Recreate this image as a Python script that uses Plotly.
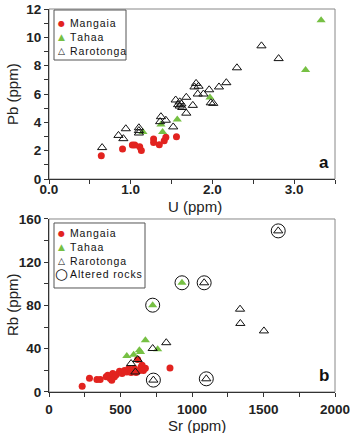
import plotly.graph_objects as go
from plotly.subplots import make_subplots

# ---------------- data ----------------
# Panel a: U (ppm) vs Pb (ppm)
man_u = [0.64, 0.90, 1.02, 1.05, 1.11, 1.13, 1.28, 1.28, 1.35, 1.41, 1.43, 1.56]
man_pb = [1.65, 2.12, 2.40, 2.40, 2.28, 2.02, 2.82, 2.58, 2.42, 2.70, 2.95, 2.98]

tah_u = [3.33, 3.14, 1.97, 1.37, 1.39, 1.57, 1.15]
tah_pb = [11.2, 7.7, 5.75, 3.85, 3.32, 4.20, 3.32]

rar_u = [0.65, 0.85, 0.91, 0.94, 1.10, 1.10, 1.10, 1.36, 1.37, 1.43, 1.52, 1.55,
         1.60, 1.62, 1.60, 1.63, 1.58, 1.68, 1.68, 1.76, 1.78, 1.80, 1.83, 1.82,
         1.89, 1.96, 1.98, 2.01, 2.08, 2.17, 2.30, 2.60, 2.81]
rar_pb = [2.22, 3.08, 2.85, 3.55, 3.62, 3.42, 3.25, 4.05, 4.40, 4.15, 3.68, 5.58,
          5.45, 5.30, 5.15, 5.05, 5.25, 5.77, 4.65, 5.20, 6.50, 6.75, 6.55, 6.00,
          6.00, 6.30, 5.38, 5.34, 6.50, 6.80, 7.85, 9.40, 8.50]

# Panel b: Sr (ppm) vs Rb (ppm)
man_sr = [232, 283, 335, 358, 400, 411, 428, 439, 446, 458, 470, 493, 511, 528,
          544, 558, 574, 597, 609, 620, 632, 644, 651, 660, 674, 846]
man_rb = [5.3, 12.8, 11.5, 11.5, 14.0, 15.5, 12.5, 10.8, 17.0, 14.0, 16.0, 19.2,
          17.0, 20.0, 18.5, 21.7, 18.0, 21.7, 18.0, 30.0, 20.0, 23.2, 24.7, 20.0,
          22.0, 22.2]

tah_sr = [544, 592, 632, 640, 674, 760, 725, 930]
tah_rb = [33.4, 34.5, 38.5, 37.0, 47.9, 39.6, 80.3, 101.0]

rar_sr = [574, 604, 620, 725, 820, 1336, 1338, 1503, 1085, 1603, 730, 1100]
rar_rb = [26.3, 18.5, 30.0, 40.2, 45.6, 76.6, 63.4, 56.5, 101.0, 149.0, 11.0, 12.2]

alt_sr = [725, 930, 1085, 1603, 730, 1100]
alt_rb = [80.3, 101.0, 101.0, 149.0, 11.0, 12.2]

RED = "#e2231f"
GREEN = "#76c043"
FONT = "Liberation Sans, Arial, sans-serif"

ML, MR = 49, 15
PW = 350 - ML - MR

fig = make_subplots(rows=2, cols=1, vertical_spacing=0.0)

def add_series(row, xs, ys, kind):
    if kind == "man":
        m = dict(symbol="circle", size=7, color=RED, line=dict(width=0))
    elif kind == "tah":
        m = dict(symbol="triangle-up", size=8, color=GREEN, line=dict(width=0))
    elif kind == "rar":
        m = dict(symbol="triangle-up-open", size=8, color="#111", line=dict(width=1))
    else:
        m = dict(symbol="circle-open", size=14, color="#111", line=dict(width=1))
    fig.add_trace(go.Scatter(x=xs, y=ys, mode="markers", marker=m,
                             showlegend=False, hoverinfo="x+y"), row=row, col=1)

add_series(1, man_u, man_pb, "man")
add_series(1, tah_u, tah_pb, "tah")
add_series(1, rar_u, rar_pb, "rar")
add_series(2, man_sr, man_rb, "man")
add_series(2, tah_sr, tah_rb, "tah")
add_series(2, rar_sr, rar_rb, "rar")
add_series(2, alt_sr, alt_rb, "alt")

tickfont = dict(family=FONT, size=13.5, color="#222")
titlefont = dict(family=FONT, size=15, color="#222")
axcommon = dict(showgrid=False, zeroline=False, showline=True, linecolor="#333",
                linewidth=1, ticks="outside", ticklen=4, tickcolor="#333",
                tickfont=tickfont, mirror=False, tickprefix="<b>", ticksuffix="</b>",
                ticklabeloverflow="allow", automargin=False)

fig.update_layout(
    xaxis=dict(**axcommon, range=[0, 3.5], dtick=1.0, tick0=0, tickformat=".1f",
               domain=[0, 1], ticklabelstandoff=-6,
               minor=dict(ticks="outside", dtick=0.5, ticklen=4, tickcolor="#333")),
    yaxis=dict(**axcommon, range=[0, 12], dtick=2, domain=[0.556, 1.0],
               minor=dict(ticks="outside", dtick=1, ticklen=4, tickcolor="#333")),
    xaxis2=dict(**axcommon, range=[0, 2000], dtick=500, tick0=0, domain=[0, 1],
                ticklabelstandoff=1,
                minor=dict(ticks="outside", dtick=250, ticklen=4, tickcolor="#333")),
    yaxis2=dict(**axcommon, range=[0, 160], dtick=40, domain=[0.0, 0.4517],
                minor=dict(ticks="outside", dtick=20, ticklen=4, tickcolor="#333")),
)

shapes = []
annotations = []
# frames
for xr, yr in (("x domain", "y domain"), ("x2 domain", "y2 domain")):
    shapes.append(dict(type="rect", xref=xr, yref=yr, x0=0, x1=1, y0=0, y1=1,
                       line=dict(color="#888", width=1), layer="below"))

# axis titles (paper coords from pixel positions)
def ppx(px):
    return (px - ML) / float(PW)

def ppy(py):
    return (392 - py) / 383.0

for text, px, py, ang in (("U (ppm)", 195, 207, 0), ("Sr (ppm)", 197, 425, 0),
                          ("Pb (ppm)", 12, 94, -90), ("Rb (ppm)", 12, 305, -90)):
    annotations.append(dict(xref="paper", yref="paper", x=ppx(px), y=ppy(py),
                            text=text, textangle=ang, showarrow=False,
                            xanchor="center", yanchor="middle",
                            font=titlefont))

# legends (drawn manually)
def px_to_dom(px, py, top, height):
    return (px - ML) / float(PW), 1 - (py - top) / height

def legend(xr, yr, top, height, box, items):
    x0, y0 = px_to_dom(box[0], box[1], top, height)
    x1, y1 = px_to_dom(box[2], box[3], top, height)
    shapes.append(dict(type="rect", xref=xr, yref=yr, x0=x0, x1=x1, y0=y1, y1=y0,
                       line=dict(color="#555", width=1), fillcolor="white"))
    for py, glyph, gcol, gsize, label in items:
        gx, gy = px_to_dom(61.5, py, top, height)
        annotations.append(dict(xref=xr, yref=yr, x=gx, y=gy, text=glyph,
                                showarrow=False, xanchor="center", yanchor="middle",
                                font=dict(family="DejaVu Sans", size=gsize, color=gcol)))
        tx, ty = px_to_dom(68, py, top, height)
        annotations.append(dict(xref=xr, yref=yr, x=tx, y=ty,
                                text="\u200a".join(label),
                                showarrow=False, xanchor="left", yanchor="middle",
                                font=dict(family=FONT, size=10.5, color="#111")))

legend("x domain", "y domain", 9, 170, (54, 10, 126, 60), [
    (23.3, "●", RED, 8, "Mangaia"),
    (36.7, "▲", GREEN, 9, "Tahaa"),
    (51.0, "△", "#111", 9, "Rarotonga"),
])
legend("x2 domain", "y2 domain", 219, 173, (54, 223, 145, 288), [
    (233.3, "●", RED, 8, "Mangaia"),
    (246.7, "▲", GREEN, 9, "Tahaa"),
    (261.0, "△", "#111", 9, "Rarotonga"),
    (274.5, "○", "#111", 15, "Altered rocks"),
])

annotations.append(dict(xref="x domain", yref="y domain", x=0.985, y=0.03, text="<b>a</b>",
                        showarrow=False, xanchor="right", yanchor="bottom",
                        font=dict(family=FONT, size=17, color="#111")))
annotations.append(dict(xref="x2 domain", yref="y2 domain", x=0.985, y=0.03, text="<b>b</b>",
                        showarrow=False, xanchor="right", yanchor="bottom",
                        font=dict(family=FONT, size=17, color="#111")))

fig.update_layout(
    width=350, height=433,
    margin=dict(l=ML, r=MR, t=9, b=41),
    plot_bgcolor="white", paper_bgcolor="white",
    shapes=shapes, annotations=annotations,
    showlegend=False,
)

fig.write_html("out.html")
